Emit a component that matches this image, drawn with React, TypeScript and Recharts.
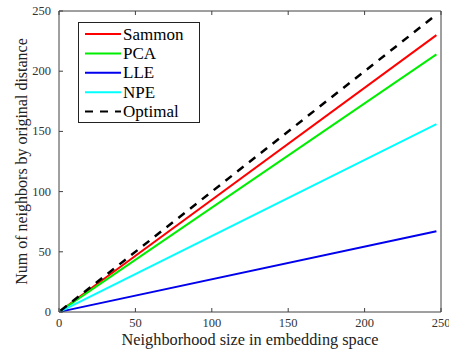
import React from "react";
import { LineChart, Line, XAxis, YAxis } from "recharts";

const neighborhoodSize = [1, 247];
const sammon = [1, 230];
const pca = [0.9, 214];
const lle = [0.3, 67];
const npe = [0.6, 156];
const optimal = [1, 247];
const ticks = [0, 50, 100, 150, 200, 250];

const seriesNames = ["Sammon", "PCA", "LLE", "NPE", "Optimal"];
const seriesColors = ["#ff0000", "#00ee00", "#0000ee", "#00ffff", "#000000"];

const data = neighborhoodSize.map((x, i) => ({
  x,
  Sammon: sammon[i],
  PCA: pca[i],
  LLE: lle[i],
  NPE: npe[i],
  Optimal: optimal[i],
}));

const FONT = "'Liberation Serif', 'Times New Roman', serif";
const AXIS = "#404040";
const DASH = "8 7";

const BottomTick = (props: any) => {
  const { x, y, payload } = props;
  const ay = y - 8;
  return (
    <g>
      <line x1={x} y1={ay} x2={x} y2={ay - 4} stroke={AXIS} strokeWidth={1} />
      <text x={x} y={ay + 15} textAnchor="middle" fontFamily={FONT} fontSize={12.5} fill="#333">
        {payload.value}
      </text>
    </g>
  );
};

const TopTick = (props: any) => {
  const { x, y } = props;
  const ay = y + 8;
  return <line x1={x} y1={ay} x2={x} y2={ay + 4} stroke={AXIS} strokeWidth={1} />;
};

const LeftTick = (props: any) => {
  const { x, y, payload } = props;
  const ax = x + 8;
  return (
    <g>
      <line x1={ax} y1={y} x2={ax + 4} y2={y} stroke={AXIS} strokeWidth={1} />
      <text x={ax - 8} y={y + 4} textAnchor="end" fontFamily={FONT} fontSize={12.5} fill="#333">
        {payload.value}
      </text>
    </g>
  );
};

const RightTick = (props: any) => {
  const { x, y } = props;
  const ax = x - 8;
  return <line x1={ax} y1={y} x2={ax - 4} y2={y} stroke={AXIS} strokeWidth={1} />;
};

const LegendBox = () => (
  <svg
    width={449}
    height={350}
    style={{ position: "absolute", left: 0, top: 0, pointerEvents: "none" }}
  >
    <rect x={78.5} y={22.5} width={121} height={100} fill="#fff" stroke="#222" strokeWidth={1} />
    {seriesNames.map((name, i) => {
      const cy = 34 + i * 19.4;
      return (
        <g key={name}>
          <line
            x1={85}
            y1={cy}
            x2={121}
            y2={cy}
            stroke={seriesColors[i]}
            strokeWidth={2}
            strokeDasharray={name === "Optimal" ? DASH : undefined}
          />
          <text x={123} y={cy + 5.5} fontFamily={FONT} fontSize={17} fill="#000">
            {name}
          </text>
        </g>
      );
    })}
  </svg>
);

export default function App() {
  return (
    <div style={{ position: "absolute", left: 0, top: 0, width: 449, height: 350, background: "#fff" }}>
      <LineChart width={449} height={350} data={data} margin={{ top: 10, right: 7, left: 0, bottom: 0 }}>
        <XAxis
          dataKey="x"
          type="number"
          domain={[0, 250]}
          ticks={ticks}
          interval={0}
          height={38}
          tickSize={0}
          tickMargin={8}
          tickLine={false}
          stroke={AXIS}
          tick={<BottomTick />}
          label={{
            value: "Neighborhood size in embedding space",
            position: "insideBottom",
            offset: 5,
            style: { fontFamily: FONT, fontSize: 16.3, fill: "#222" },
          }}
        />
        <XAxis
          xAxisId="top"
          orientation="top"
          dataKey="x"
          type="number"
          domain={[0, 250]}
          ticks={ticks}
          interval={0}
          height={1}
          tickSize={0}
          tickMargin={8}
          tickLine={false}
          stroke={AXIS}
          tick={<TopTick />}
        />
        <YAxis
          type="number"
          domain={[0, 250]}
          ticks={ticks}
          interval={0}
          width={59}
          tickSize={0}
          tickMargin={8}
          tickLine={false}
          stroke={AXIS}
          tick={<LeftTick />}
          label={{
            value: "Num of neighbors by original distance",
            angle: -90,
            position: "center",
            dx: -8,
            style: { fontFamily: FONT, fontSize: 16, fill: "#222", textAnchor: "middle" },
          }}
        />
        <YAxis
          yAxisId="right"
          orientation="right"
          type="number"
          domain={[0, 250]}
          ticks={ticks}
          interval={0}
          width={1}
          tickSize={0}
          tickMargin={8}
          tickLine={false}
          stroke={AXIS}
          tick={<RightTick />}
        />
        {seriesNames.map((name, i) => (
          <Line
            key={name}
            dataKey={name}
            type="linear"
            stroke={seriesColors[i]}
            strokeWidth={name === "Optimal" ? 2.5 : 2}
            strokeDasharray={name === "Optimal" ? DASH : undefined}
            dot={false}
            activeDot={false}
            isAnimationActive={false}
          />
        ))}
      </LineChart>
      <LegendBox />
    </div>
  );
}
